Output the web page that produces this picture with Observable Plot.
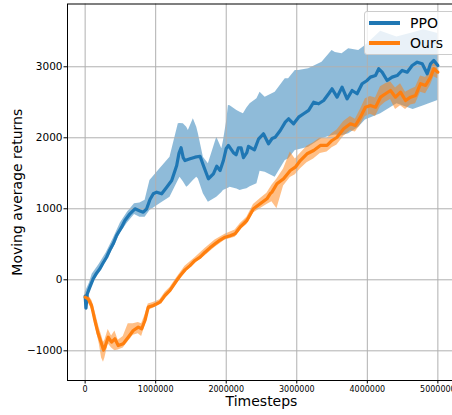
<!DOCTYPE html>
<html>
<head>
<meta charset="utf-8">
<script src="https://cdn.jsdelivr.net/npm/d3@7"></script>
<script src="https://cdn.jsdelivr.net/npm/@observablehq/plot@0.6"></script>
<style>
  body { margin: 0; background: #fff; font-family: "DejaVu Sans", sans-serif; }
  #chart { position: relative; width: 452px; height: 415px; overflow: hidden; }
  .legend {
    position: absolute; left: 364px; top: 11px; width: 110px; height: 44px;
    box-sizing: border-box; border: 1px solid #cccccc; border-radius: 3px;
    background: rgba(255, 255, 255, 0.8);
  }
  .legend .swatch { position: absolute; left: 4px; width: 31px; height: 3.2px; }
  .legend .name { position: absolute; left: 45px; font-size: 14px; line-height: 16px; color: #000; }
</style>
</head>
<body>
<div id="chart"></div>
<script>
// Timesteps are given in thousands.
const ppoSteps = [0, 12, 30, 67, 114, 160, 209, 250, 304, 350, 398, 446, 517, 564, 635, 706, 777, 824, 872, 919, 966, 1014, 1085, 1156, 1227, 1298, 1330, 1360, 1390, 1416, 1487, 1558, 1629, 1680, 1747, 1818, 1866, 1913, 1960, 2000, 2031, 2102, 2140, 2173, 2210, 2244, 2292, 2315, 2363, 2400, 2457, 2528, 2599, 2650, 2694, 2766, 2837, 2884, 2955, 3026, 3097, 3168, 3239, 3310, 3381, 3452, 3500, 3571, 3642, 3713, 3784, 3855, 3926, 3997, 4044, 4116, 4162, 4210, 4281, 4352, 4423, 4494, 4565, 4636, 4707, 4778, 4849, 4896, 4943, 5000];
const ppoReturns = [-230, -400, -200, -104, 14, 90, 155, 230, 318, 420, 507, 624, 741, 835, 930, 1000, 970, 952, 1000, 1130, 1211, 1234, 1211, 1304, 1399, 1610, 1780, 1860, 1720, 1680, 1704, 1727, 1740, 1600, 1423, 1493, 1600, 1539, 1680, 1850, 1892, 1790, 1760, 1860, 1860, 1720, 1790, 1880, 1850, 1830, 1980, 2056, 1915, 1990, 2008, 2103, 2220, 2268, 2197, 2290, 2338, 2385, 2501, 2479, 2525, 2620, 2690, 2572, 2713, 2549, 2666, 2620, 2761, 2807, 2854, 2877, 2972, 2924, 2807, 2854, 2877, 2948, 2924, 3018, 3065, 3042, 2901, 3042, 3089, 3018];

const ppoBandSteps = [0, 60, 100, 200, 300, 400, 500, 600, 700, 777, 850, 919, 1061, 1203, 1321, 1345, 1392, 1440, 1463, 1534, 1582, 1605, 1676, 1747, 1866, 1938, 1960, 2008, 2031, 2055, 2151, 2197, 2244, 2293, 2339, 2435, 2480, 2552, 2694, 2837, 2884, 2979, 3026, 3168, 3358, 3500, 3547, 3642, 3736, 3878, 3973, 4190, 4420, 4650, 4800, 5000];
const ppoLower = [-420, -170, -40, 90, 260, 440, 660, 800, 920, 880, 880, 976, 1070, 1163, 1400, 1445, 1380, 1304, 1320, 1400, 1445, 1420, 1211, 1093, 1163, 1230, 1258, 1280, 1290, 1304, 1280, 1258, 1270, 1282, 1310, 1352, 1530, 1516, 1445, 1680, 1700, 1821, 1830, 1868, 1990, 2030, 2040, 2030, 2056, 2150, 2250, 2338, 2480, 2400, 2450, 2525];
const ppoUpper = [-180, -50, 80, 220, 380, 580, 800, 950, 1070, 1080, 1120, 1400, 1563, 1727, 2197, 2200, 2197, 2150, 2103, 2268, 2150, 2056, 1727, 1634, 2008, 1845, 1950, 2244, 2455, 2450, 2385, 2360, 2338, 2420, 2479, 2549, 2640, 2572, 2642, 2831, 2831, 2948, 2948, 2972, 3065, 3230, 3200, 3183, 3254, 3230, 3300, 3500, 3420, 3480, 3520, 3470];

const oursSteps = [0, 43, 91, 138, 185, 233, 260, 280, 327, 375, 422, 469, 540, 611, 682, 753, 801, 848, 895, 966, 1061, 1132, 1203, 1298, 1350, 1416, 1487, 1558, 1630, 1700, 1770, 1842, 1913, 1984, 2055, 2126, 2197, 2293, 2386, 2481, 2577, 2622, 2648, 2719, 2813, 2908, 2979, 3050, 3145, 3239, 3334, 3429, 3500, 3571, 3665, 3760, 3831, 3902, 3973, 4044, 4116, 4187, 4258, 4329, 4400, 4471, 4542, 4613, 4684, 4755, 4826, 4896, 4943, 5000];
const oursReturns = [-245, -268, -362, -573, -761, -901, -990, -949, -808, -878, -831, -925, -901, -808, -714, -667, -690, -573, -385, -362, -315, -221, -150, -10, 60, 140, 200, 272, 320, 389, 450, 507, 560, 600, 620, 648, 741, 835, 1000, 1070, 1141, 1211, 1234, 1352, 1423, 1539, 1586, 1680, 1775, 1821, 1892, 1892, 1962, 2008, 2127, 2197, 2173, 2290, 2431, 2455, 2431, 2572, 2620, 2666, 2572, 2643, 2525, 2572, 2596, 2761, 2737, 2854, 2972, 2924];

const oursBandSteps = [0, 50, 100, 150, 200, 233, 260, 280, 327, 375, 422, 469, 540, 611, 682, 753, 801, 848, 895, 966, 1061, 1132, 1203, 1298, 1416, 1558, 1700, 1842, 1984, 2126, 2197, 2293, 2386, 2481, 2577, 2648, 2719, 2813, 2908, 2979, 3050, 3145, 3239, 3334, 3429, 3500, 3571, 3665, 3760, 3831, 3902, 3973, 4044, 4116, 4187, 4258, 4329, 4400, 4471, 4542, 4613, 4684, 4755, 4826, 4896, 4943, 5000];
const oursLower = [-300, -330, -440, -680, -900, -1100, -1160, -1100, -900, -960, -1000, -990, -960, -870, -780, -760, -800, -650, -430, -400, -350, -260, -190, -50, 100, 230, 340, 460, 560, 600, 700, 780, 940, 1000, 1060, 1100, 1000, 1320, 1440, 1480, 1560, 1650, 1700, 1780, 1800, 1860, 1900, 2020, 2100, 2080, 2180, 2300, 2330, 2300, 2440, 2500, 2540, 2400, 2450, 2400, 2460, 2480, 2640, 2620, 2740, 2860, 2830];
const oursUpper = [-200, -220, -300, -480, -680, -780, -880, -850, -700, -790, -720, -850, -800, -620, -620, -600, -620, -500, -340, -320, -280, -180, -110, 30, 190, 310, 440, 560, 640, 700, 790, 880, 1060, 1140, 1220, 1330, 1420, 1560, 1800, 1700, 1780, 1880, 1930, 2000, 1990, 2060, 2110, 2230, 2300, 2260, 2400, 2550, 2580, 2560, 2720, 2760, 2790, 2700, 2760, 2640, 2680, 2710, 2870, 2850, 2960, 3060, 3010];

const xTicks = [0, 1000000, 2000000, 3000000, 4000000, 5000000];
const yTicks = [-1000, 0, 1000, 2000, 3000];

const seriesNames = ["PPO", "Ours"];
const seriesColors = ["#1f77b4", "#ff7f0e"];

const toLine = (steps, values) => steps.map((s, i) => ({step: s * 1000, value: values[i]}));
const toBand = (steps, lo, hi) => steps.map((s, i) => ({step: s * 1000, lo: lo[i], hi: hi[i]}));

const ppo = toLine(ppoSteps, ppoReturns);
const ours = toLine(oursSteps, oursReturns);
const ppoBand = toBand(ppoBandSteps, ppoLower, ppoUpper);
const oursBand = toBand(oursBandSteps, oursLower, oursUpper);

const gridStyle = {stroke: "#b0b0b0", strokeOpacity: 1, strokeWidth: 1};

const plot = Plot.plot({
  width: 452,
  height: 415,
  marginLeft: 67,
  marginRight: -3,
  marginTop: 3.5,
  marginBottom: 35,
  style: {fontFamily: '"DejaVu Sans", sans-serif', background: "white", color: "black"},
  x: {domain: [-250000, 5250000]},
  y: {domain: [-1418, 3884]},
  marks: [
    Plot.areaY(ppoBand, {x: "step", y1: "lo", y2: "hi", fill: seriesColors[0], fillOpacity: 0.5}),
    Plot.areaY(oursBand, {x: "step", y1: "lo", y2: "hi", fill: seriesColors[1], fillOpacity: 0.5}),
    Plot.gridX(xTicks, gridStyle),
    Plot.gridY(yTicks, gridStyle),
    Plot.lineY(ppo, {x: "step", y: "value", stroke: seriesColors[0], strokeWidth: 3.2}),
    Plot.lineY(ours, {x: "step", y: "value", stroke: seriesColors[1], strokeWidth: 3.2}),
    Plot.frame({stroke: "black", strokeWidth: 1}),
    Plot.axisX(xTicks, {tickFormat: d3.format("d"), fontSize: 8, tickSize: 3.5, tickPadding: 2, label: null}),
    Plot.axisY(yTicks, {tickFormat: d3.format("d"), fontSize: 10.5, tickSize: 3.5, tickPadding: 1.5, label: null}),
    Plot.text(["Timesteps"], {frameAnchor: "bottom", textAnchor: "middle", lineAnchor: "middle", dy: 21, fontSize: 14}),
    Plot.text(["Moving average returns"], {frameAnchor: "left", textAnchor: "middle", lineAnchor: "middle", dx: -49.5, rotate: -90, fontSize: 14})
  ]
});

const chart = document.getElementById("chart");
chart.appendChild(plot);

// Legend box in the upper right corner of the axes
const legend = document.createElement("div");
legend.className = "legend";
seriesNames.forEach((name, i) => {
  const swatch = document.createElement("div");
  swatch.className = "swatch";
  swatch.style.top = (9.4 + i * 20) + "px";
  swatch.style.background = seriesColors[i];
  const label = document.createElement("div");
  label.className = "name";
  label.style.top = (2.5 + i * 20) + "px";
  label.textContent = name;
  legend.appendChild(swatch);
  legend.appendChild(label);
});
chart.appendChild(legend);
</script>
</body>
</html>
